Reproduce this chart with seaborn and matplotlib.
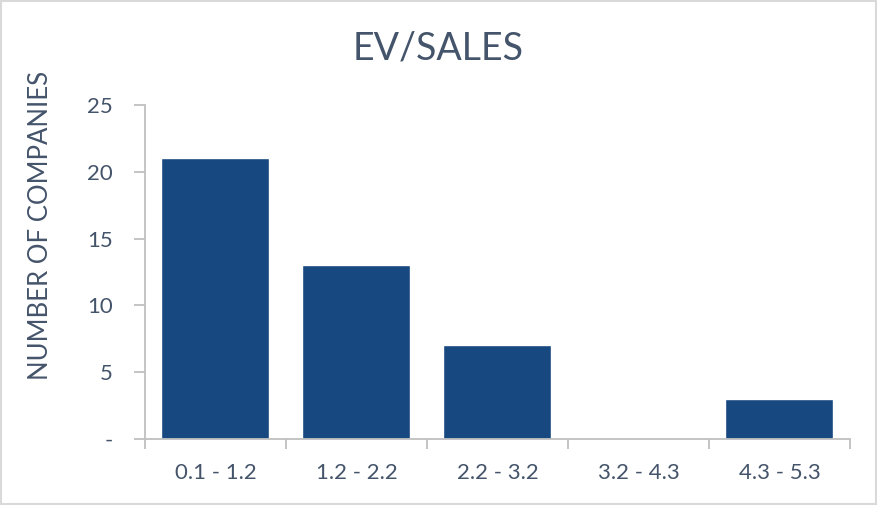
import matplotlib
matplotlib.use('Agg')
import matplotlib.pyplot as plt
import seaborn as sns
import pandas as pd

# chart data
ranges = ['0.1 - 1.2', '1.2 - 2.2', '2.2 - 3.2', '3.2 - 4.3', '4.3 - 5.3']
companies = [21, 13, 7, 0, 3]
y_ticks = [0, 5, 10, 15, 20, 25]
y_tick_labels = ['-', '5', '10', '15', '20', '25']

df = pd.DataFrame({'range': ranges, 'companies': companies})

sns.set_theme(style='white')
plt.rcParams['font.family'] = ['Lato', 'DejaVu Sans']

text_color = '#44546A'
axis_color = '#BFBFBF'
bar_color = '#17487F'

fig = plt.figure(figsize=(8.77, 5.05), dpi=100)
ax = fig.add_axes([0.1653, 0.1307, 0.8039, 0.6614])

sns.barplot(data=df, x='range', y='companies', color=bar_color,
            saturation=1, width=0.766, ax=ax)

ax.set_ylim(0, 25)
ax.set_xlim(-0.5, len(ranges) - 0.5)
ax.set_yticks(y_ticks)
ax.set_yticklabels(y_tick_labels)

# ticks sit between categories on the x axis
ax.set_xticks([i - 0.5 for i in range(len(ranges) + 1)])
ax.set_xticklabels([])
ax.set_xticks(range(len(ranges)), minor=True)
ax.set_xticklabels(ranges, minor=True)
ax.tick_params(axis='x', which='major', direction='out', length=7, width=1.3,
               color=axis_color, bottom=True)
ax.tick_params(axis='x', which='minor', length=0, pad=17, labelsize=16,
               labelcolor=text_color)
ax.tick_params(axis='y', direction='out', length=8, width=1.3, color=axis_color,
               left=True, pad=15, labelsize=16, labelcolor=text_color)

sns.despine(ax=ax)
for side in ['left', 'bottom']:
    ax.spines[side].set_color(axis_color)
    ax.spines[side].set_linewidth(1.3)

ax.set_xlabel('')
ax.set_ylabel('NUMBER OF COMPANIES', fontsize=18.5, color=text_color)
ax.yaxis.set_label_coords(-0.13, 0.64)

fig.suptitle('EV/SALES', x=0.5, y=0.94, fontsize=27, color=text_color)

# light border around the whole chart
fig.patches.append(plt.Rectangle((0.001, 0.001), 0.998, 0.997, transform=fig.transFigure,
                                 fill=False, edgecolor='#D9D9D9', linewidth=1.5))

fig.savefig('out.png', dpi=100)
plt.close(fig)
